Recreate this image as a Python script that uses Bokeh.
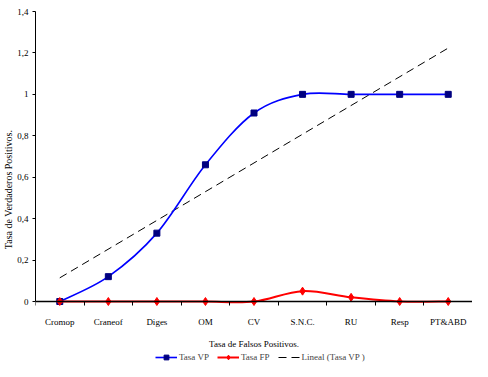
import numpy as np
from bokeh.plotting import figure
from bokeh.models import FixedTicker, Legend, LegendItem, Range1d
from bokeh.embed import file_html
from bokeh.resources import INLINE

categories = ["Cromop", "Craneof", "Diges", "OM", "CV", "S.N.C.", "RU", "Resp", "PT&ABD"]
tasa_vp = [0.0, 0.12, 0.33, 0.66, 0.91, 1.0, 1.0, 1.0, 1.0]
tasa_fp = [0.0, 0.0, 0.0, 0.0, 0.0, 0.05, 0.02, 0.0, 0.0]
y_ticks = [0, 0.2, 0.4, 0.6, 0.8, 1.0, 1.2, 1.4]
y_tick_labels = ["0", "0,2", "0,4", "0,6", "0,8", "1", "1,2", "1,4"]

FONT = "Liberation Serif"
xs = list(range(1, len(categories) + 1))

# layout: 290 px for the 0..1.4 data span, 66 px of extra frame below 0 for labels/legend
Y_TOP = 1.4
Y_BOTTOM = -Y_TOP * 66 / 290


def smooth_segments(x, y, t=1.0 / 6.0):
    n = len(x)
    d = dict(x0=[], y0=[], x1=[], y1=[], cx0=[], cy0=[], cx1=[], cy1=[])
    for i in range(n - 1):
        a = i - 1 if i > 0 else i
        b = i + 2 if i + 2 < n else i + 1
        d["x0"].append(x[i]); d["y0"].append(y[i])
        d["x1"].append(x[i + 1]); d["y1"].append(y[i + 1])
        d["cx0"].append(x[i] + (x[i + 1] - x[a]) * t)
        d["cy0"].append(y[i] + (y[i + 1] - y[a]) * t)
        d["cx1"].append(x[i + 1] - (x[b] - x[i]) * t)
        d["cy1"].append(y[i + 1] - (y[b] - y[i]) * t)
    return d


p = figure(width=472, height=369, x_range=Range1d(0.5, 9.5), y_range=Range1d(Y_BOTTOM, Y_TOP),
           output_backend="svg", toolbar_location=None,
           min_border_left=31, min_border_right=0, min_border_top=11, min_border_bottom=2)
p.xgrid.visible = False
p.ygrid.visible = False
p.outline_line_color = None
p.background_fill_color = "white"

# trend line (linear fit of Tasa VP)
slope, intercept = np.polyfit(xs, tasa_vp, 1)
trend_x = [xs[0], xs[-1]]
trend_y = [intercept + slope * v for v in trend_x]
r_tr = p.line(trend_x, trend_y, line_color="black", line_width=1, line_dash="8 5")

vp = smooth_segments(xs, tasa_vp)
r_vp = p.bezier(x0=vp["x0"], y0=vp["y0"], x1=vp["x1"], y1=vp["y1"],
                cx0=vp["cx0"], cy0=vp["cy0"], cx1=vp["cx1"], cy1=vp["cy1"],
                line_color="#0000FF", line_width=1.6)
s_vp = p.scatter(xs, tasa_vp, marker="square", size=6, fill_color="#000080", line_color="#000080")

fp = smooth_segments(xs, tasa_fp)
r_fp = p.bezier(x0=fp["x0"], y0=fp["y0"], x1=fp["x1"], y1=fp["y1"],
                cx0=fp["cx0"], cy0=fp["cy0"], cx1=fp["cx1"], cy1=fp["cy1"],
                line_color="#FF0000", line_width=2)
s_fp = p.scatter(xs, tasa_fp, marker="diamond", size=8, fill_color="#FF0000", line_color="#FF0000")

# x axis, drawn at y = 0
xa = p.xaxis[0]
xa.fixed_location = 0
xa.ticker = FixedTicker(ticks=xs, minor_ticks=[v - 0.5 for v in xs] + [xs[-1] + 0.5])
xa.major_label_overrides = {v: c for v, c in zip(xs, categories)}
xa.major_tick_out = 0
xa.major_tick_in = 0
xa.minor_tick_out = 4
xa.minor_tick_in = 0
xa.minor_tick_line_color = "black"
xa.axis_line_color = "black"
xa.axis_line_width = 1.5
xa.major_label_standoff = 11
xa.major_label_text_font = FONT
xa.major_label_text_font_size = "9px"
xa.major_label_text_color = "black"
xa.axis_label = "Tasa de Falsos Positivos."
xa.axis_label_text_font = FONT
xa.axis_label_text_font_size = "9px"
xa.axis_label_text_font_style = "normal"
xa.axis_label_text_color = "black"
xa.axis_label_standoff = 9

# y axis
ya = p.yaxis[0]
ya.bounds = (0, Y_TOP)
ya.ticker = FixedTicker(ticks=y_ticks, minor_ticks=[])
ya.major_label_overrides = {v: l for v, l in zip(y_ticks, y_tick_labels)}
ya.major_tick_out = 3
ya.major_tick_in = 0
ya.major_tick_line_color = "black"
ya.axis_line_color = "black"
ya.major_label_standoff = 4
ya.major_label_text_font = FONT
ya.major_label_text_font_size = "9px"
ya.major_label_text_color = "black"
ya.axis_label = "Tasa de Verdaderos Positivos."
ya.axis_label_text_font = FONT
ya.axis_label_text_font_size = "10px"
ya.axis_label_text_font_style = "normal"
ya.axis_label_text_color = "black"
ya.axis_label_standoff = 0

legend = Legend(items=[
    LegendItem(label="Tasa VP", renderers=[r_vp, s_vp]),
    LegendItem(label="Tasa FP", renderers=[r_fp, s_fp]),
    LegendItem(label="Lineal (Tasa VP )", renderers=[r_tr]),
], location=(120, 4), orientation="horizontal", border_line_color=None,
    background_fill_alpha=0, padding=0, margin=0, spacing=8,
    glyph_width=22, glyph_height=12, label_standoff=2,
    label_text_font=FONT, label_text_font_size="9px", label_height=12)
p.add_layout(legend)

open("out.html", "w").write(file_html(p, INLINE))
